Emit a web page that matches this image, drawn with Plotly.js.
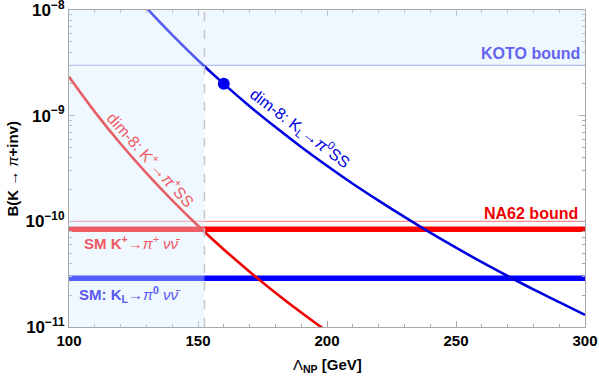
<!DOCTYPE html>
<html>
<head>
<meta charset="utf-8">
<script src="https://cdn.plot.ly/plotly-3.0.1.min.js"></script>
<style>html,body{margin:0;padding:0;background:#fff;}#chart{width:599px;height:382px;}</style>
</head>
<body>
<div id="chart"></div>
<script>
// Lambda_NP grid [GeV]
const lamRed  = [100, 110, 120, 130, 140, 150, 160, 170, 180, 190, 200];
const bRed    = [2.33e-9, 1.087e-9, 5.42e-10, 2.86e-10, 1.58e-10, 9.09e-11, 5.42e-11, 3.34e-11, 2.11e-11, 1.37e-11, 9.1e-12];
const lamBlue = [120, 130, 140, 150, 160, 170, 180, 190, 200, 210, 220, 230, 240, 250, 260, 270, 280, 290, 300];
const bBlue   = [2.0e-8, 1.05e-8, 5.82e-9, 3.35e-9, 2.0e-9, 1.23e-9, 7.8e-10, 5.06e-10, 3.36e-10, 2.27e-10, 1.57e-10, 1.10e-10, 7.8e-11, 5.63e-11, 4.11e-11, 3.04e-11, 2.27e-11, 1.72e-11, 1.30e-11];
const lamRange = [100, 300];
const kotoBound = 3.0e-9;
const na62Bound = 1.0e-10;
const smKplus = 8.4e-11;
const smKL = 2.9e-11;
const benchLam = [160];
const benchB = [2.0e-9];
const lamCut = 152.5;
const yTickVals = [1e-11, 1e-10, 1e-9, 1e-8];
const yTickText = ['10<sup>−11</sup>', '10<sup>−10</sup>', '10<sup>−9</sup>', '10<sup>−8</sup>'];
const yMinorVals = [2e-11,3e-11,4e-11,5e-11,6e-11,7e-11,8e-11,9e-11,2e-10,3e-10,4e-10,5e-10,6e-10,7e-10,8e-10,9e-10,2e-9,3e-9,4e-9,5e-9,6e-9,7e-9,8e-9,9e-9];
const xTickVals = [100, 150, 200, 250, 300];
const xTickText = ['100', '150', '200', '250', '300'];
const xMinorVals = [110,120,130,140,160,170,180,190,210,220,230,240,260,270,280,290];

const FONT = 'Liberation Sans, Arial, sans-serif';
const flat = v => lamRange.map(() => v);

const traces = [
  {x: lamRange, y: flat(kotoBound), mode: 'lines', line: {color: '#9b9bf7', width: 1.2}, hoverinfo: 'skip'},
  {x: lamRange, y: flat(na62Bound), mode: 'lines', line: {color: '#ff8a8a', width: 1.2}, hoverinfo: 'skip'},
  {x: lamRange, y: flat(smKplus), mode: 'lines', line: {color: '#ff0000', width: 5.5}, hoverinfo: 'skip'},
  {x: lamRange, y: flat(smKL), mode: 'lines', line: {color: '#0000ff', width: 5.5}, hoverinfo: 'skip'},
  {x: lamRed, y: bRed, mode: 'lines', line: {color: '#f00000', width: 2.6, shape: 'spline'}, hoverinfo: 'skip'},
  {x: lamBlue, y: bBlue, mode: 'lines', line: {color: '#0000e0', width: 2.6, shape: 'spline'}, hoverinfo: 'skip'},
  {x: benchLam, y: benchB, mode: 'markers', marker: {color: '#0000ee', size: 12}, hoverinfo: 'skip'}
];

const overlay = 'rgba(214,234,255,0.40)';
const layout = {
  width: 599, height: 382,
  margin: {l: 69, r: 14, t: 10, b: 55},
  paper_bgcolor: '#fff', plot_bgcolor: '#fff',
  showlegend: false,
  font: {family: FONT, color: '#000'},
  xaxis: {
    range: [100, 300], showgrid: false, zeroline: false,
    showline: true, linecolor: '#a8a8a8', linewidth: 1, mirror: 'allticks',
    ticks: 'inside', ticklen: 6, tickcolor: '#a8a8a8',
    tickmode: 'array', tickvals: xTickVals, ticktext: xTickText,
    ticklabeloverflow: 'allow',
    tickfont: {size: 15, family: FONT, weight: 700, color: '#000'},
    minor: {tickmode: 'array', tickvals: xMinorVals, ticks: 'inside', ticklen: 3, tickcolor: '#a8a8a8', showgrid: false}
  },
  yaxis: {
    type: 'log', range: [-11, -8], showgrid: false, zeroline: false,
    showline: true, linecolor: '#a8a8a8', linewidth: 1, mirror: 'allticks',
    ticks: 'inside', ticklen: 6, tickcolor: '#a8a8a8',
    tickmode: 'array', tickvals: yTickVals, ticktext: yTickText,
    ticklabeloverflow: 'allow',
    tickfont: {size: 17, family: FONT, weight: 700, color: '#000'},
    minor: {tickmode: 'array', tickvals: yMinorVals, ticks: 'inside', ticklen: 3, tickcolor: '#a8a8a8', showgrid: false}
  },
  shapes: [
    {type: 'rect', xref: 'x', yref: 'paper', x0: 100, x1: lamCut, y0: 0, y1: 1, fillcolor: overlay, line: {width: 0}, layer: 'above'},
    {type: 'rect', xref: 'x', yref: 'y', x0: lamCut, x1: 300, y0: kotoBound, y1: 1e-8, fillcolor: overlay, line: {width: 0}, layer: 'above'},
    {type: 'line', xref: 'x', yref: 'paper', x0: lamCut, x1: lamCut, y0: 0, y1: 1, line: {color: '#c4c6cc', width: 1.5, dash: 'dash'}, layer: 'above'}
  ],
  annotations: [
    {xref: 'paper', yref: 'paper', x: 0, y: 0.5, xshift: -57, xanchor: 'center', yanchor: 'middle', textangle: -90, showarrow: false,
     text: '<b>B(K → </b><i>π</i><b>+inv)</b>', font: {size: 15, family: FONT, color: '#000'}},
    {xref: 'paper', yref: 'paper', x: 0.5, y: 0, yshift: -38, xanchor: 'center', yanchor: 'middle', showarrow: false,
     text: 'Λ<sub><b>NP</b></sub> <b>[GeV]</b>', font: {size: 15, family: FONT, color: '#000'}},
    {xref: 'x', yref: 'y', x: 298.8, y: -8.416, xanchor: 'right', yanchor: 'middle', showarrow: false,
     text: '<b>KOTO bound</b>', font: {size: 16, family: FONT, color: '#6464f0'}},
    {xref: 'x', yref: 'y', x: 298.1, y: -9.926, xanchor: 'right', yanchor: 'middle', showarrow: false,
     text: '<b>NA62 bound</b>', font: {size: 16, family: FONT, color: '#ee0000'}},
    {xref: 'x', yref: 'y', x: 105.0, y: -10.196, xanchor: 'left', yanchor: 'middle', showarrow: false,
     text: '<b>SM K<sup>+</sup></b>→<i>π<sup>+</sup> νν̄</i>', font: {size: 15, family: FONT, color: '#f05a64'}},
    {xref: 'x', yref: 'y', x: 103.1, y: -10.688, xanchor: 'left', yanchor: 'middle', showarrow: false,
     text: '<b>SM: K<sub>L</sub></b>→<i>π</i><b><sup>0</sup></b> <i>νν̄</i>', font: {size: 15, family: FONT, color: '#5a5af0'}},
    {xref: 'x', yref: 'y', x: 131.8, y: -9.41, textangle: 48, showarrow: false,
     text: 'dim-8: K<sup>+</sup>→<i>π</i><sup>+</sup>SS', font: {size: 16, family: FONT, color: '#f05a64'}},
    {xref: 'x', yref: 'y', x: 189.5, y: -9.117, textangle: 37, showarrow: false,
     text: 'dim-8: K<sub>L</sub>→<i>π</i><sup>0</sup>SS', font: {size: 16, family: FONT, color: '#0000e0'}}
  ]
};

Plotly.newPlot('chart', traces, layout, {staticPlot: true, displayModeBar: false});
</script>
</body>
</html>
